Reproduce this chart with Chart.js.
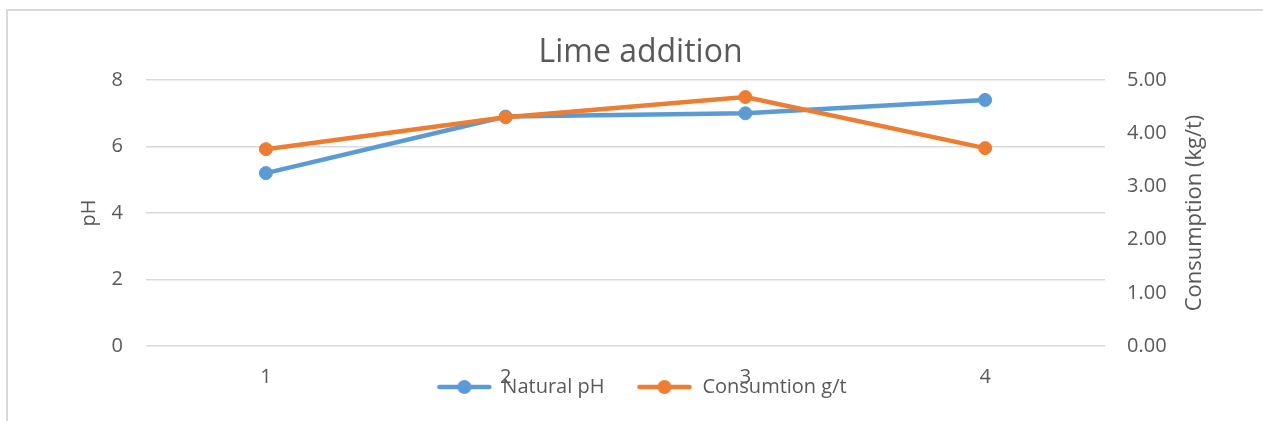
<!DOCTYPE html>
<html>
<head>
<meta charset="utf-8">
<script src="https://cdn.jsdelivr.net/npm/chart.js@4"></script>
<style>
  html, body { margin: 0; padding: 0; background: #ffffff; overflow: hidden; }
  #frame { position: absolute; left: 6px; top: 9px; width: 1400px; height: 600px; border: 2px solid #d9d9d9; box-sizing: border-box; }
  #wrap { position: absolute; left: 0; top: 0; width: 1263px; height: 421px; }
</style>
</head>
<body>
<div id="frame"></div>
<div id="wrap"><canvas id="c" width="1263" height="421"></canvas></div>
<script>
// Test number along the horizontal axis
const categories = ['1', '2', '3', '4'];
// Left axis: natural pH of the pulp
const naturalPH = [5.2, 6.9, 7.0, 7.4];
// Right axis: lime consumption
const consumption = [3.7, 4.3, 4.68, 3.72];
// Axis tick values
const phTicks = [0, 2, 4, 6, 8];
const consumptionTicks = [0, 1, 2, 3, 4, 5];

const TEXT = '#595959';
const BLUE = '#5B9BD5';
const ORANGE = '#ED7D31';
const FONT = '"Open Sans", Lato, sans-serif';
const FS = 20;

// Legend swatch: a short line with a dot in the middle
function lineMarker(color) {
  const cv = document.createElement('canvas');
  cv.width = 56; cv.height = 16;
  const g = cv.getContext('2d');
  g.strokeStyle = color; g.lineWidth = 4.5; g.lineCap = 'round';
  g.beginPath(); g.moveTo(3, 8); g.lineTo(53, 8); g.stroke();
  g.fillStyle = color;
  g.beginPath(); g.arc(28, 8, 7, 0, Math.PI * 2); g.fill();
  return cv;
}

// Rotated title for the right-hand axis (reads bottom to top)
const rightTitle = {
  id: 'rightTitle',
  afterDraw(chart) {
    const s = chart.scales.y1;
    const ctx = chart.ctx;
    ctx.save();
    ctx.translate(s.left + 90, (chart.chartArea.top + chart.chartArea.bottom) / 2);
    ctx.rotate(-Math.PI / 2);
    ctx.font = '22px ' + FONT;
    ctx.fillStyle = TEXT;
    ctx.textAlign = 'center';
    ctx.textBaseline = 'middle';
    ctx.fillText('Consumption (kg/t)', 0, 0);
    ctx.restore();
  }
};

// Place the legend row just under the category labels,
// let the category labels use the space below the axis,
// and centre the title over the frame
const legendPlace = {
  id: 'legendPlace',
  afterLayout(chart) {
    const lg = chart.legend;
    const pad = lg.options.labels.padding;
    const dy = 387 - (lg.top + pad + FS / 2);
    lg.top += dy; lg.bottom += dy;
    const dx = 10;
    lg.left += dx; lg.right += dx;
    chart.scales.x.bottom = chart.height;
    const tb = chart.titleBlock;
    tb.left += 9; tb.right += 9;
  }
};

new Chart(document.getElementById('c'), {
  type: 'line',
  data: {
    labels: categories,
    datasets: [
      {
        label: 'Consumtion g/t',
        data: consumption,
        yAxisID: 'y1',
        borderColor: ORANGE,
        backgroundColor: ORANGE,
        borderWidth: 4.5,
        pointRadius: 6.5,
        pointBorderWidth: 1,
        pointBackgroundColor: ORANGE,
        pointBorderColor: ORANGE,
        tension: 0
      },
      {
        label: 'Natural pH',
        data: naturalPH,
        yAxisID: 'y',
        borderColor: BLUE,
        backgroundColor: BLUE,
        borderWidth: 4.5,
        pointRadius: 6.5,
        pointBorderWidth: 1,
        pointBackgroundColor: BLUE,
        pointBorderColor: BLUE,
        tension: 0
      }
    ]
  },
  options: {
    responsive: false,
    animation: false,
    devicePixelRatio: 1,
    layout: { padding: 0 },
    plugins: {
      title: {
        display: true,
        text: 'Lime addition',
        color: TEXT,
        font: { family: FONT, size: 32, weight: 'normal', lineHeight: 1.2 },
        padding: { top: 33.8, bottom: 7.8 }
      },
      legend: {
        display: true,
        position: 'bottom',
        labels: {
          color: TEXT,
          font: { family: FONT, size: FS },
          usePointStyle: true,
          pointStyleWidth: 56,
          padding: 32,
          generateLabels(chart) {
            // blue series first, then orange
            return [1, 0].map(i => {
              const ds = chart.data.datasets[i];
              return {
                text: ds.label,
                fillStyle: ds.borderColor,
                strokeStyle: ds.borderColor,
                fontColor: TEXT,
                lineWidth: 0,
                pointStyle: lineMarker(ds.borderColor),
                hidden: false,
                datasetIndex: i
              };
            });
          }
        }
      },
      tooltip: { enabled: false }
    },
    scales: {
      x: {
        offset: true,
        grid: { display: false, drawTicks: false },
        border: { display: false },
        ticks: { color: TEXT, font: { family: FONT, size: FS }, padding: 19 },
        afterFit(s) { s.height = 13; }
      },
      y: {
        position: 'left',
        min: phTicks[0],
        max: phTicks[phTicks.length - 1],
        afterBuildTicks(s) { s.ticks = phTicks.map(v => ({ value: v })); },
        grid: { color: '#d9d9d9', lineWidth: 1.5, drawTicks: false },
        border: { display: false },
        ticks: { color: TEXT, font: { family: FONT, size: FS }, padding: 23 },
        title: {
          display: true,
          text: 'pH',
          color: TEXT,
          font: { family: FONT, size: FS, lineHeight: 1.2 },
          padding: { top: 77, bottom: 0 }
        },
        afterFit(s) { s.width = 146; }
      },
      y1: {
        position: 'right',
        min: consumptionTicks[0],
        max: consumptionTicks[consumptionTicks.length - 1],
        afterBuildTicks(s) { s.ticks = consumptionTicks.map(v => ({ value: v })); },
        grid: { display: false, drawTicks: false },
        border: { display: false },
        ticks: {
          color: TEXT,
          font: { family: FONT, size: FS },
          padding: 22,
          callback: v => Number(v).toFixed(2)
        },
        afterFit(s) { s.width = 158; }
      }
    }
  },
  plugins: [rightTitle, legendPlace]
});
</script>
</body>
</html>
